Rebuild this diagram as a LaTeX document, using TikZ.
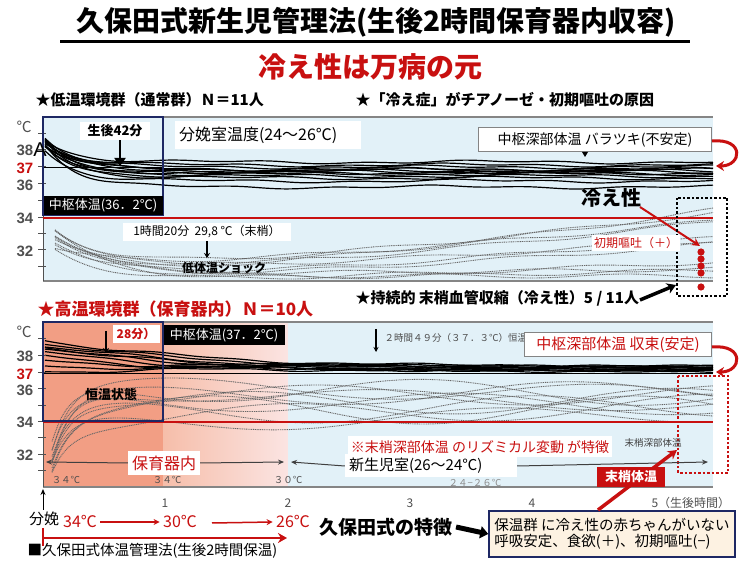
\documentclass[tikz,border=0pt]{standalone}
\usepackage{fontspec}
\setmainfont{Noto Sans CJK JP}
\newfontfamily\arialf{Liberation Sans}
\usetikzlibrary{arrows.meta}
\definecolor{bluebg}{RGB}{226,241,248}
\definecolor{salmon}{RGB}{242,158,132}
\definecolor{salmonl}{RGB}{246,190,170}
\definecolor{pinkl}{RGB}{251,228,226}
\definecolor{dred}{RGB}{200,16,16}
\definecolor{navy}{RGB}{30,40,100}
\definecolor{beige}{RGB}{253,242,226}
\definecolor{axgray}{RGB}{80,80,80}
\begin{document}
\begin{tikzpicture}[x=1pt,y=-1pt,
  fs/.style={font=\fontsize{#1}{#1}\selectfont},
  fsb/.style={font=\fontsize{#1}{#1}\selectfont\bfseries},
  wbox/.style={fill=white,inner sep=2pt},
  core/.style={black,line width=1.2pt},
  peri/.style={black!60,line width=0.9pt,dash pattern=on 1pt off 0.8pt},
  tickln/.style={axgray,line width=1pt},
  axnum/.style={font=\arialf\bfseries\fontsize{15}{15}\selectfont,text=axgray},
  redarr/.style={dred,line width=3pt,-{Stealth[length=8pt,width=10pt]}},
  thinred/.style={dred,line width=1.5pt,-{Stealth[length=6pt,width=6pt]}},
]
\useasboundingbox (0,0) rectangle (740,561);
\fill[white] (0,0) rectangle (740,561);

% ---------- titles
\node[fsb=28] (title) at (376,22) {久保田式新生児管理法(生後2時間保育器内収容)};
\draw[line width=2.5pt] (60,41.5) -- (690,41.5);
\node[fsb=28,text=dred] (sub) at (370,67) {冷え性は万病の元};
\node[fsb=15,anchor=west] (h1) at (32,100) {★低温環境群（通常群）Ｎ＝11人};
\node[fsb=15,anchor=west] (h2) at (352,100) {★「冷え症」がチアノーゼ・初期嘔吐の原因};

% ---------- top plot
\fill[bluebg] (43,117) rectangle (713,281);
\begin{scope}
\clip (43,117) rectangle (713,281);
\foreach \pk/\lo/\rr/\ph in {228/275/65/0, 235/278/40/40, 240/272/50/80, 232/280/10/120, 245/276/0/160, 238/270/30/200, 250/282/20/240, 230/268/55/280, 243/274/5/320, 236/279/35/20, 248/266/45/60}
  \draw[peri] plot[domain=55:713,samples=70,smooth] (\x,{\lo+(\pk-\lo)*exp(-(\x-55)/55)-\rr*((\x-45)/668)^1.5+2*sin(\x*1.9+\ph)});
\foreach \sa/\ba/\ph in {140/162/0, 143/165/40, 138/167/80, 145/169/120, 142/171/160, 148/172/200, 141/174/240, 146/176/280, 139/178/320, 150/181/20, 144/187/60, 141/170/100, 146/173/300}
  \draw[core] plot[domain=45:713,samples=90,smooth] (\x,{\ba+(\sa-\ba)*exp(-(\x-45)/30)+1.2*sin(\x*1.3+\ph)+0.8*sin(\x*3.7+2*\ph)});
\end{scope}
\draw[axgray!70,line width=1.5pt] (43,117) -- (713,117);
\draw[axgray!70,line width=1.5pt] (43,281) -- (713,281);
\draw[tickln] (43,117) -- (43,281);
\foreach \ty in {134,150,167,184,201,218,234,250,267}
  \draw[tickln] (38,\ty) -- (46,\ty);
\draw[black,line width=0.8pt] (43,167) -- (163,167);
\draw[dred,line width=1.5pt] (43,218) -- (713,218);
\draw[navy,line width=1.5pt] (43,117) rectangle (163,215);

\node[fs=15,text=axgray] (tc) at (24,127) {℃};
\node[axnum] (t38) at (25,150) {38};
\node[font=\arialf\fontsize{20}{20}\selectfont] (tA) at (40,150) {A};
\node[axnum,text=dred] (t37) at (25,168) {37};
\node[axnum] (t36) at (25,185) {36};
\node[axnum] (t34) at (25,218) {34};
\node[axnum] (t32) at (25,251) {32};

\node[fill=black,text=white,fs=13,minimum width=119pt,minimum height=19pt,inner sep=0pt] (core1) at (103,205.5) {中枢体温(36．2℃)};
\node[wbox,fsb=13,minimum width=70pt,minimum height=18pt] (t42) at (115,131) {生後42分};
\coordinate (a42) at (120,166);
\draw[line width=2.5pt,-{Triangle[length=8pt,width=11pt]}] (t42.south -| a42) -- (a42);
\node[wbox,fs=16,text width=178pt,align=left,minimum height=28pt,inner sep=4pt] (room1) at (268,135) {分娩室温度(24〜26℃)};
\node[wbox,fs=14,draw=axgray!70,line width=1pt,minimum width=233pt,minimum height=24pt,inner sep=2pt] (bara) at (595,140) {中枢深部体温\ バラツキ(不安定)};
\fill[black] (582,152) -- (588,152) -- (585,157) -- cycle;
\coordinate (c1a) at (712,141);
\coordinate (c1b) at (716,166);
\draw[redarr] (c1a) .. controls (745,138) and (742,166) .. (c1b);

\node[wbox,fs=12,minimum width=168pt,minimum height=18pt] (t120) at (207,232) {1時間20分\ \ 29,8 ℃（末梢）};
\coordinate (a120) at (207,258);
\draw[line width=1.5pt,-{Stealth[length=5pt,width=6pt]}] (t120.south) -- (a120);
\node[fsb=12] (shock) at (224,268) {低体温ショック};

\node[fsb=20] (hie) at (611,198) {冷え性};
\coordinate (hieT) at (700,246);
\draw[dred,line width=2pt,-{Stealth[length=8pt,width=8pt]}] (640,207) -- (hieT);
\draw[black,line width=2.5pt,dash pattern=on 2.5pt off 2pt] (677,198) rectangle (727,296);
\node[wbox,fs=12,text=dred,inner sep=2pt] (vom) at (636,243) {初期嘔吐（＋）};
\foreach \dy in {252,259,266,273,287}
  \fill[dred] (701,\dy) circle (3.6pt);
\node[fsb=15,anchor=west] (h3) at (352,298) {★持続的 末梢血管収縮（冷え性）5 / 11人};
\coordinate (ba) at (676,285);
\draw[black,line width=3.5pt,-{Stealth[length=9pt,width=11pt]}] (640,300) -- (ba);

% ---------- bottom plot
\node[fsb=17,text=dred,anchor=west] (h4) at (34,309) {★高温環境群（保育器内）Ｎ＝10人};
\fill[salmon] (43,322) rectangle (163,487);
\shade[left color=salmonl,right color=pinkl] (163,322) rectangle (288,487);
\fill[bluebg] (288,322) rectangle (713,487);
\begin{scope}
\clip (43,322) rectangle (713,487);
\foreach \ca/\ta/\ph/\am/\st in {395/0/0/10/455, 405/-5/60/12/460, 385/10/120/9/448, 415/-10/180/12/465, 400/5/240/10/470, 390/15/300/8/452, 420/-15/30/11/462, 410/0/90/14/458, 398/-8/150/10/466, 425/-12/210/9/470, 388/6/270/12/450}
  \draw[peri] plot[domain=52:713,samples=90,smooth] (\x,{\ca+\ta*(\x-45)/668+\am*sin(\x*0.85+\ph)+(\st-\ca)*exp(-(\x-52)/18)});
\foreach \sa/\ba/\ph in {338/366/0, 342/367/40, 346/368/80, 350/369/120, 354/370/160, 358/371/200, 362/366/240, 366/368/280, 370/370/320, 345/372/20}
  \draw[core] plot[domain=45:713,samples=90,smooth] (\x,{\ba+(\sa-\ba)*exp(-(\x-45)/130)+3*exp(-(\x-45)/250)*sin(\x*1.5+\ph)+0.6*sin(\x*4.1+\ph)});
\end{scope}
\draw[axgray!70,line width=1.5pt] (43,322) -- (713,322);
\draw[axgray!70,line width=1.5pt] (43,487) -- (713,487);
\draw[tickln] (43,322) -- (43,487);
\foreach \ty in {339,356,373,389,406,422,438,455,471}
  \draw[tickln] (38,\ty) -- (46,\ty);
\draw[black,line width=0.8pt] (43,373) -- (713,373);
\draw[dred,line width=1.5pt] (43,422) -- (713,422);
\draw[navy,line width=1.5pt] (43,322) rectangle (163,421);

\node[fs=15,text=axgray] (bc) at (24,332) {℃};
\node[axnum] (b38) at (25,356) {38};
\node[axnum,text=dred] (b37) at (25,374) {37};
\node[axnum] (b36) at (25,390) {36};
\node[axnum] (b34) at (25,422) {34};
\node[axnum] (b32) at (25,455) {32};

\node[wbox,fsb=12,text=dred,minimum width=47pt,minimum height=18pt] (t28) at (136,334) {28分）};
\coordinate (a28) at (106,353);
\draw[line width=1.5pt,-{Stealth[length=5pt,width=6pt]}] (106,331) -- (a28);
\node[fill=black,text=white,fs=13,minimum width=121pt,minimum height=20pt,inner sep=0pt] (core2) at (224,335) {中枢体温(37．2℃)};
\node[fsb=13] (kou) at (111,395) {恒温状態};

\node[fs=9.5,text=black!70,anchor=west] (t249) at (381,338) {２時間４９分（３７．３℃）恒温状態};
\coordinate (a249) at (376,352);
\draw[line width=1.2pt,-{Stealth[length=5pt,width=5pt]}] (376,329) -- (a249);
\node[wbox,fs=15,text=dred,draw=axgray!70,line width=1pt,minimum width=187pt,minimum height=24pt,inner sep=2pt] (shu) at (618,345) {中枢深部体温\ 収束(安定)};
\coordinate (c2a) at (712,347);
\coordinate (c2b) at (716,372);
\draw[redarr] (c2a) .. controls (745,344) and (742,372) .. (c2b);

\draw[dred,line width=2.5pt,dash pattern=on 2.5pt off 2pt] (678,376) rectangle (728,473);
\node[fs=9.5,text=black!75] (mss) at (653,443) {末梢深部体温};
\node[wbox,fs=14,text=dred,minimum height=21pt,inner sep=3pt] (riz) at (480,447) {※末梢深部体温\ のリズミカル変動 が特徴};

\node[fs=9.5,text=black!70] (b34a) at (66,480) {３４℃};
\node[fs=9.5,text=black!70] (b34b) at (167,480) {３４℃};
\node[fs=9.5,text=black!70] (b30) at (288,480) {３０℃};
\node[fs=9.5,text=black!45] (b2426) at (475,483) {２４−２６℃};
\node[wbox,fs=16,text=dred,minimum width=72pt,minimum height=24pt] (hoi) at (164,463) {保育器内};
\node[wbox,fs=15,minimum width=172pt,minimum height=23pt,text width=164pt,align=left] (nicu) at (431,466) {新生児室(26〜24℃)};
\coordinate (l1) at (46,462);
\coordinate (r1) at (284,462);
\coordinate (l2) at (291,462);
\coordinate (r2) at (708,462);
\draw[black!75,line width=1pt,-{Stealth[length=6pt,width=5pt]}] (hoi.west) -- (l1);
\draw[black!75,line width=1pt,-{Stealth[length=6pt,width=5pt]}] (hoi.east) -- (r1);
\draw[black!75,line width=1pt,-{Stealth[length=6pt,width=5pt]}] (nicu.west) -- (l2);
\draw[black!75,line width=1pt,-{Stealth[length=6pt,width=5pt]}] (nicu.east) -- (r2);

% ---------- axis labels
\node[fs=12,text=axgray] (x1) at (165,503) {1};
\node[fs=12,text=axgray] (x2) at (288,503) {2};
\node[fs=12,text=axgray] (x3) at (410,503) {3};
\node[fs=12,text=axgray] (x4) at (532,503) {4};
\node[fs=12,text=axgray,anchor=west] (x5) at (648,503) {5（生後時間）};
\coordinate (up) at (43,489);
\draw[black,line width=1pt,-{Stealth[length=6pt,width=5pt]}] (43,510) -- (up);

% ---------- feature box & red arrow
\node[draw=navy,line width=1.5pt,fill=beige,fs=14.5,minimum width=246pt,minimum height=46pt,align=left,inner sep=3pt] (feat) at (612,534) {保温群 に冷え性の赤ちゃんがいない\\[2pt]呼吸安定、食欲(＋)、初期嘔吐(−)};
\coordinate (mt) at (677,450);
\draw[dred,line width=3.5pt,-{Stealth[length=9pt,width=10pt]}] (598,510) -- (mt);
\node[fill=dred,text=white,fsb=13,minimum width=68pt,minimum height=20pt,inner sep=0pt] (mshou) at (631,477) {末梢体温};

% ---------- bottom left
\node[fs=15] (bun) at (44,519) {分娩};
\node[fs=16,text=dred] (c34) at (80,522) {34℃};
\node[fs=16,text=dred] (c30) at (180,522) {30℃};
\node[fs=16,text=dred] (c26) at (293,522) {26℃};
\draw[thinred] (c34.east) -- (c30.west);
\coordinate (c30e) at (212,523);
\draw[thinred] (c30e) -- (c26.west);
\coordinate (s0) at (43,538);
\coordinate (s1) at (287,538);
\draw[dred,line width=2.5pt,-{Stealth[length=9pt,width=10pt]}] (s0) -- (s1);
\draw[dred,line width=2pt] (43,528) -- (43,546);
\node[fs=14.5,anchor=west] (kub) at (24,551) {■久保田式体温管理法(生後2時間保温)};
\node[fsb=19] (feat0) at (386,527) {久保田式の特徴};
\draw[black,line width=5pt,-{Triangle[length=8pt,width=12pt]}] (feat0.east) -- (feat.west);
\end{tikzpicture}
\end{document}
